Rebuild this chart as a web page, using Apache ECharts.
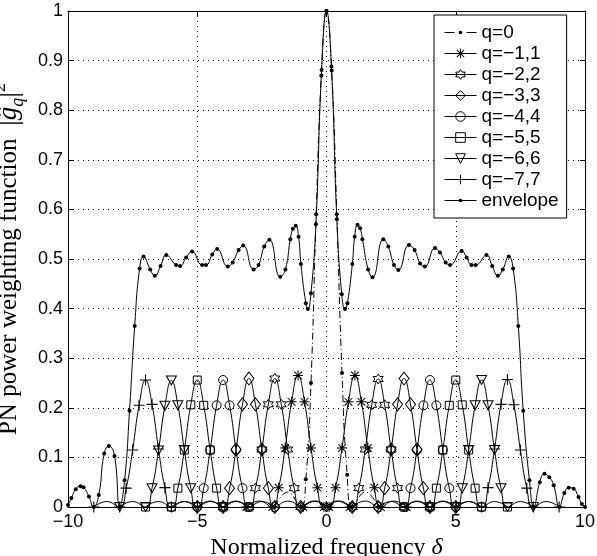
<!DOCTYPE html>
<html>
<head>
<meta charset="utf-8">
<script src="https://cdn.jsdelivr.net/npm/echarts@6/dist/echarts.min.js"></script>
<style>
  html, body { margin: 0; padding: 0; background: #fff; }
  #chart { width: 597px; height: 556px; }
</style>
</head>
<body>
<div id="chart"></div>
<script>
// axis ticks
const xTicks = [-10, -5, 0, 5, 10]
const yTicks = [0, 0.1, 0.2, 0.3, 0.4, 0.5, 0.6, 0.7, 0.8, 0.9, 1]

// q = 0 (main lobe)
const q0 = [[-2, 0], [-1.5, 0.03], [-1, 0], [-0.8, 0.056], [-0.6, 0.25], [-0.4, 0.59], [-0.2, 0.87], [0, 1],
  [0.2, 0.88], [0.4, 0.59], [0.6, 0.27], [0.8, 0.065], [1, 0], [1.5, 0.03], [2, 0]]

// q = -1 .. -7
const qNeg1 = [[-3.1, 0], [-2.6, 0.012], [-2.1, 0], [-1.85, 0.039], [-1.6, 0.119], [-1.35, 0.212], [-1.1, 0.265],
  [-0.85, 0.212], [-0.6, 0.119], [-0.35, 0.039], [-0.1, 0], [0.4, 0.012], [0.9, 0]]
const qNeg2 = [[-4, 0], [-3.5, 0.012], [-3, 0], [-2.75, 0.038], [-2.5, 0.116], [-2.25, 0.207], [-2, 0.259],
  [-1.75, 0.207], [-1.5, 0.116], [-1.25, 0.038], [-1, 0], [-0.5, 0.012], [0, 0]]
const qNeg3 = [[-5, 0], [-4.5, 0.012], [-4, 0], [-3.75, 0.038], [-3.5, 0.116], [-3.25, 0.207], [-3, 0.259],
  [-2.75, 0.207], [-2.5, 0.116], [-2.25, 0.038], [-2, 0], [-1.5, 0.012], [-1, 0]]
const qNeg4 = [[-6, 0], [-5.5, 0.011], [-5, 0], [-4.75, 0.038], [-4.5, 0.115], [-4.25, 0.205], [-4, 0.256],
  [-3.75, 0.205], [-3.5, 0.115], [-3.25, 0.038], [-3, 0], [-2.5, 0.011], [-2, 0]]
const qNeg5 = [[-7, 0], [-6.5, 0.011], [-6, 0], [-5.75, 0.038], [-5.5, 0.115], [-5.25, 0.206], [-5, 0.256],
  [-4.75, 0.205], [-4.5, 0.115], [-4.25, 0.038], [-4, 0], [-3.5, 0.011], [-3, 0]]
const qNeg6 = [[-8, 0], [-7.5, 0.011], [-7, 0], [-6.75, 0.038], [-6.5, 0.114], [-6.25, 0.204], [-6, 0.255],
  [-5.75, 0.205], [-5.5, 0.115], [-5.25, 0.038], [-5, 0], [-4.5, 0.011], [-4, 0]]
const qNeg7 = [[-9, 0], [-8.5, 0.011], [-8, 0], [-7.75, 0.038], [-7.5, 0.115], [-7.25, 0.205], [-7, 0.256],
  [-6.75, 0.207], [-6.5, 0.117], [-6.25, 0.039], [-6, 0], [-5.5, 0.011], [-5, 0]]

// q = 1 .. 7
const qPos1 = [[-0.9, 0], [-0.4, 0.012], [0.1, 0], [0.35, 0.039], [0.6, 0.119], [0.85, 0.212], [1.1, 0.265],
  [1.35, 0.212], [1.6, 0.119], [1.85, 0.039], [2.1, 0], [2.6, 0.012], [3.1, 0]]
const qPos2 = [[0, 0], [0.5, 0.012], [1, 0], [1.25, 0.038], [1.5, 0.116], [1.75, 0.206], [2, 0.258],
  [2.25, 0.206], [2.5, 0.116], [2.75, 0.038], [3, 0], [3.5, 0.012], [4, 0]]
const qPos3 = [[1, 0], [1.5, 0.012], [2, 0], [2.25, 0.038], [2.5, 0.116], [2.75, 0.207], [3, 0.259],
  [3.25, 0.207], [3.5, 0.116], [3.75, 0.038], [4, 0], [4.5, 0.012], [5, 0]]
const qPos4 = [[2, 0], [2.5, 0.011], [3, 0], [3.25, 0.038], [3.5, 0.115], [3.75, 0.205], [4, 0.256],
  [4.25, 0.205], [4.5, 0.115], [4.75, 0.038], [5, 0], [5.5, 0.011], [6, 0]]
const qPos5 = [[3, 0], [3.5, 0.011], [4, 0], [4.25, 0.038], [4.5, 0.115], [4.75, 0.205], [5, 0.256],
  [5.25, 0.206], [5.5, 0.115], [5.75, 0.038], [6, 0], [6.5, 0.011], [7, 0]]
const qPos6 = [[4, 0], [4.5, 0.011], [5, 0], [5.25, 0.038], [5.5, 0.115], [5.75, 0.205], [6, 0.256],
  [6.25, 0.205], [6.5, 0.115], [6.75, 0.038], [7, 0], [7.5, 0.011], [8, 0]]
const qPos7 = [[5, 0], [5.5, 0.011], [6, 0], [6.25, 0.039], [6.5, 0.117], [6.75, 0.207], [7, 0.257],
  [7.25, 0.206], [7.5, 0.115], [7.75, 0.038], [8, 0], [8.5, 0.011], [9, 0]]

// envelope
const envelope = [[-10, 0.004], [-9.87, 0.018], [-9.7, 0.036], [-9.52, 0.042], [-9.4, 0.04], [-9.19, 0.021], [-9.01, 0],
  [-8.81, 0.024], [-8.6, 0.108], [-8.42, 0.123], [-8.2, 0.103], [-8, 0], [-7.81, 0.054], [-7.62, 0.194],
  [-7.42, 0.365], [-7.23, 0.481], [-7.08, 0.505], [-6.82, 0.479], [-6.64, 0.466], [-6.42, 0.486], [-6.2, 0.508],
  [-5.82, 0.488], [-5.66, 0.486], [-5.43, 0.503], [-5.2, 0.515], [-4.81, 0.488], [-4.66, 0.488], [-4.42, 0.509],
  [-4.23, 0.52], [-3.82, 0.485], [-3.63, 0.493], [-3.4, 0.518], [-3.22, 0.527], [-2.82, 0.479], [-2.63, 0.488],
  [-2.41, 0.525], [-2.21, 0.539], [-1.79, 0.464], [-1.59, 0.479], [-1.4, 0.54], [-1.3, 0.561], [-1.19, 0.567],
  [-1.08, 0.545], [-0.99, 0.49], [-0.8, 0.411], [-0.72, 0.399], [-0.6, 0.431], [-0.41, 0.57], [-0.19, 0.881],
  [0, 1], [0.19, 0.888], [0.4, 0.58], [0.59, 0.429], [0.72, 0.399], [0.81, 0.411], [1, 0.49], [1.09, 0.545],
  [1.2, 0.569], [1.3, 0.562], [1.39, 0.54], [1.61, 0.479], [1.78, 0.463], [2.2, 0.54], [2.39, 0.525],
  [2.61, 0.488], [2.78, 0.478], [3.19, 0.528], [3.41, 0.518], [3.62, 0.491], [3.8, 0.485], [4.2, 0.522],
  [4.39, 0.513], [4.61, 0.493], [4.78, 0.488], [5.23, 0.516], [5.42, 0.503], [5.61, 0.488], [5.77, 0.488],
  [6.19, 0.508], [6.41, 0.486], [6.63, 0.466], [6.82, 0.479], [7.05, 0.505], [7.22, 0.481], [7.42, 0.365],
  [7.61, 0.194], [7.85, 0.054], [8.02, 0], [8.25, 0.05], [8.43, 0.067], [8.62, 0.06], [8.79, 0.044], [9.01, 0],
  [9.2, 0.028], [9.37, 0.039], [9.56, 0.037], [9.75, 0.02], [9.88, 0.006], [10, 0]]

// marker shapes (matlab style)
const PLUS = 'path://M4.5,0L5.5,0L5.5,10L4.5,10Z M0,4.5L10,4.5L10,5.5L0,5.5Z'
const ASTER = PLUS + ' M1.5,0.8L9.2,8.5L8.5,9.2L0.8,1.5Z M9.2,1.5L1.5,9.2L0.8,8.5L8.5,0.8Z'
const HEXA = 'path://M5,0L6.44,2.5L9.33,2.5L7.89,5L9.33,7.5L6.44,7.5L5,10L3.56,7.5L0.67,7.5L2.11,5L0.67,2.5L3.56,2.5Z'
const TRI_DOWN = 'path://M0,0L10,0L5,8.66Z'
// legend icons for the dotted curves (line + small dot), box 32x12
const ICON_DASHDOT = 'path://M0,0Z M32,12Z M0,5.5L10,5.5L10,6.5L0,6.5Z M22,5.5L32,5.5L32,6.5L22,6.5Z M16,4.2A1.8,1.8,0,1,1,16,7.8A1.8,1.8,0,1,1,16,4.2Z'
const ICON_DOTLINE = 'path://M0,0Z M32,12Z M0,5.5L32,5.5L32,6.5L0,6.5Z M16,4.2A1.8,1.8,0,1,1,16,7.8A1.8,1.8,0,1,1,16,4.2Z'

const hollow = { color: 'rgba(0,0,0,0)', borderColor: '#000', borderWidth: 1 }
const filled = { color: '#000', borderWidth: 0 }

function line(name, data, symbol, size, itemStyle, dash, keepSide) {
  // tiny side-lobe points carry the line only, no marker
  const items = data.map(p => (!keepSide && p[1] > 0 && p[1] < 0.035) ? { value: p, symbol: 'none' } : p)
  return {
    name: name,
    type: 'line',
    data: items,
    smooth: 0.5,
    symbol: symbol,
    symbolSize: size,
    showAllSymbol: true,
    itemStyle: itemStyle,
    lineStyle: { color: '#000', width: 1, type: dash || 'solid' },
    emphasis: { disabled: true },
    animation: false
  }
}

const names = ['q=0', 'q=\u22121,1', 'q=\u22122,2', 'q=\u22123,3', 'q=\u22124,4', 'q=\u22125,5', 'q=\u22126,6', 'q=\u22127,7', 'envelope']
const hollowNames = [names[2], names[3], names[4], names[5], names[6]]

const series = [
  line(names[0], q0, 'circle', 4, filled, [7, 3, 1, 3]),
  line(names[1], qNeg1, ASTER, 10, filled),
  line(names[1], qPos1, ASTER, 10, filled),
  line(names[2], qNeg2, HEXA, 10, hollow),
  line(names[2], qPos2, HEXA, 10, hollow),
  line(names[3], qNeg3, 'diamond', [10, 13], hollow),
  line(names[3], qPos3, 'diamond', [10, 13], hollow),
  line(names[4], qNeg4, 'circle', 9, hollow),
  line(names[4], qPos4, 'circle', 9, hollow),
  line(names[5], qNeg5, 'rect', 8, hollow),
  line(names[5], qPos5, 'rect', 8, hollow),
  line(names[6], qNeg6, TRI_DOWN, [10, 9], hollow),
  line(names[6], qPos6, TRI_DOWN, [10, 9], hollow),
  line(names[7], qNeg7, PLUS, 11, filled),
  line(names[7], qPos7, PLUS, 11, filled),
  line(names[8], envelope, 'circle', 4, filled, null, true)
]

const legendData = names.map(n => {
  if (n === 'q=0') return { name: n, icon: ICON_DASHDOT, itemStyle: filled }
  if (n === 'envelope') return { name: n, icon: ICON_DOTLINE, itemStyle: filled }
  if (hollowNames.indexOf(n) >= 0) return { name: n, itemStyle: hollow, lineStyle: { width: 1 } }
  return { name: n, itemStyle: filled, lineStyle: { width: 1 } }
})

const tickFont = { fontFamily: 'Liberation Sans, Arial, sans-serif', fontSize: 18, color: '#000' }
const minus = v => String(v).replace('-', '\u2212')

const chart = echarts.init(document.getElementById('chart'), null, { renderer: 'canvas' })
chart.setOption({
  backgroundColor: '#fff',
  animation: false,
  grid: { left: 68, right: 12, top: 11, bottom: 49, outerBoundsMode: 'none', containLabel: false },
  legend: {
    data: legendData,
    orient: 'vertical',
    left: 434,
    top: 15,
    backgroundColor: '#fff',
    borderColor: '#000',
    borderWidth: 1,
    borderRadius: 0,
    padding: [8, 8, 8, 10],
    itemWidth: 32,
    itemHeight: 12,
    itemGap: 2,
    itemTextGap: 10,
    selectedMode: false,
    textStyle: { fontFamily: 'Liberation Sans, Arial, sans-serif', fontSize: 19, color: '#000', lineHeight: 19 }
  },
  xAxis: [
    {
      type: 'value',
      min: xTicks[0],
      max: xTicks[xTicks.length - 1],
      interval: xTicks[1] - xTicks[0],
      name: 'Normalized frequency {i|\u03b4}',
      nameLocation: 'middle',
      nameGap: 23,
      nameTextStyle: {
        fontFamily: 'Liberation Serif, Times New Roman, serif', fontSize: 24, color: '#000',
        rich: { i: { fontFamily: 'Liberation Serif, serif', fontStyle: 'italic', fontSize: 24, color: '#000' } }
      },
      axisLine: { show: true, onZero: false, lineStyle: { color: '#000', width: 1 } },
      axisTick: { show: true, inside: true, length: 5, lineStyle: { color: '#000' } },
      axisLabel: Object.assign({ margin: 6, formatter: minus }, tickFont),
      splitLine: { show: true, lineStyle: { color: '#000', width: 1, type: [1, 4] } }
    },
    {
      type: 'value',
      position: 'top',
      min: xTicks[0],
      max: xTicks[xTicks.length - 1],
      interval: xTicks[1] - xTicks[0],
      axisLine: { show: true, onZero: false, lineStyle: { color: '#000', width: 1 } },
      axisTick: { show: true, inside: true, length: 5, lineStyle: { color: '#000' } },
      axisLabel: { show: false },
      splitLine: { show: false }
    }
  ],
  yAxis: [
    {
      type: 'value',
      min: yTicks[0],
      max: yTicks[yTicks.length - 1],
      interval: yTicks[1] - yTicks[0],
      name: 'PN power weighting function  {m||}{g|\u011d}{q|q}{m||}{s|2}',
      nameLocation: 'middle',
      nameGap: 32,
      nameTextStyle: {
        fontFamily: 'Liberation Serif, Times New Roman, serif', fontSize: 25, color: '#000', lineHeight: 30,
        rich: {
          m: { fontFamily: 'Liberation Serif, serif', fontSize: 29, color: '#000', lineHeight: 30 },
          g: { fontFamily: 'Liberation Serif, serif', fontStyle: 'italic', fontSize: 27, color: '#000', lineHeight: 30 },
          q: { fontFamily: 'Liberation Serif, serif', fontStyle: 'italic', fontSize: 18, color: '#000', verticalAlign: 'bottom', lineHeight: 36 },
          s: { fontFamily: 'Liberation Serif, serif', fontSize: 18, color: '#000', verticalAlign: 'top', lineHeight: 36 }
        }
      },
      axisLine: { show: true, onZero: false, lineStyle: { color: '#000', width: 1 } },
      axisTick: { show: true, inside: true, length: 5, lineStyle: { color: '#000' } },
      axisLabel: Object.assign({ margin: 5, formatter: v => String(+v.toFixed(1)) }, tickFont),
      splitLine: { show: true, lineStyle: { color: '#000', width: 1, type: [1, 4] } }
    },
    {
      type: 'value',
      position: 'right',
      min: yTicks[0],
      max: yTicks[yTicks.length - 1],
      interval: yTicks[1] - yTicks[0],
      axisLine: { show: true, onZero: false, lineStyle: { color: '#000', width: 1 } },
      axisTick: { show: true, inside: true, length: 5, lineStyle: { color: '#000' } },
      axisLabel: { show: false },
      splitLine: { show: false }
    }
  ],
  series: series
})
</script>
</body>
</html>
